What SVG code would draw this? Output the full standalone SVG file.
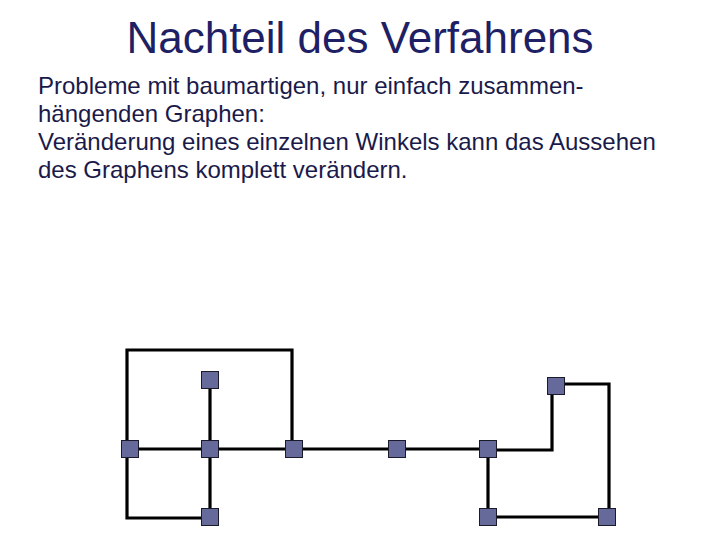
<svg xmlns="http://www.w3.org/2000/svg" width="720" height="540" viewBox="0 0 720 540">
<style>
.title{font-family:"Liberation Sans",Arial,sans-serif;font-size:44px;fill:#1f1f66}
.body{font-family:"Liberation Sans",Arial,sans-serif;font-size:24px;fill:#1a1a4a}
.edge{stroke:#000;stroke-width:3.2;fill:none;stroke-linejoin:miter}
.node{fill:#666a9a;stroke:#1a1a2a;stroke-width:1}
</style>
<rect width="720" height="540" fill="#fff"/>
<text class="title" x="360" y="53" text-anchor="middle">Nachteil des Verfahrens</text>
<text class="body" x="38" y="94">Probleme mit baumartigen, nur einfach zusammen-</text>
<text class="body" x="38" y="122">hängenden Graphen:</text>
<text class="body" x="38" y="150">Veränderung eines einzelnen Winkels kann das Aussehen</text>
<text class="body" x="38" y="178">des Graphens komplett verändern.</text>
<g id="connectors">
<polyline class="edge" points="130,449 127,449 127,350 292,350 292,449"/>
<line class="edge" x1="210" y1="380" x2="210" y2="517"/>
<line class="edge" x1="130" y1="449" x2="488" y2="449"/>
<polyline class="edge" points="127,449 127,518 210,518"/>
<polyline class="edge" points="488,450 552,450 552,385"/>
<polyline class="edge" points="556,384 609,384 609,517"/>
<line class="edge" x1="488" y1="449" x2="488" y2="517"/>
<line class="edge" x1="488" y1="517" x2="607" y2="517"/>
</g>
<g id="n1"><rect class="node" x="121.5" y="440.5" width="17" height="17"/></g>
<g id="n2"><rect class="node" x="201.5" y="371.5" width="17" height="17"/></g>
<g id="n3"><rect class="node" x="201.5" y="440.5" width="17" height="17"/></g>
<g id="n4"><rect class="node" x="201.5" y="508.5" width="17" height="17"/></g>
<g id="n5"><rect class="node" x="285.5" y="440.5" width="17" height="17"/></g>
<g id="n6"><rect class="node" x="388.5" y="440.5" width="17" height="17"/></g>
<g id="n7"><rect class="node" x="479.5" y="440.5" width="17" height="17"/></g>
<g id="n8"><rect class="node" x="547.5" y="377.5" width="17" height="17"/></g>
<g id="n9"><rect class="node" x="479.5" y="508.5" width="17" height="17"/></g>
<g id="n10"><rect class="node" x="598.5" y="508.5" width="17" height="17"/></g>
</svg>
